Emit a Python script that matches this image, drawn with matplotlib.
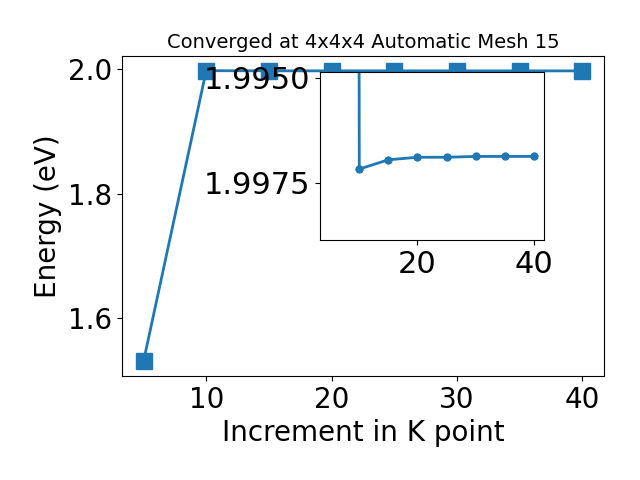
import matplotlib
matplotlib.use("Agg")
import matplotlib.pyplot as plt

# k-point increment and total energy
kpoints = [5, 10, 15, 20, 25, 30, 35, 40]
energy = [1.5306, 1.99717, 1.99695, 1.99689, 1.99689, 1.99687, 1.99687, 1.99687]

fig, ax = plt.subplots(figsize=(6.4, 4.8), dpi=100)
fig.subplots_adjust(left=0.19, right=0.944, bottom=0.217, top=0.883)

ax.plot(kpoints, energy, 's-', color='#1f77b4', lw=2, ms=11)
ax.set_title("Converged at 4x4x4 Automatic Mesh 15", fontsize=14)
ax.set_xlabel("Increment in K point", fontsize=20)
ax.set_ylabel("Energy (eV)", fontsize=20)
ax.tick_params(labelsize=20)
ax.set_yticks([1.6, 1.8, 2.0])

# zoomed inset
ins = fig.add_axes([0.5, 0.5, 0.35, 0.35])
ins.plot(kpoints, energy, 'o-', color='#1f77b4', lw=2, ms=5)
ins.set_ylim(1.99886, 1.99486)
ins.set_yticks([1.9950, 1.9975])
ins.set_yticklabels(["1.9950", "1.9975"])
ins.set_xticks([20, 40])
ins.tick_params(labelsize=22)

fig.savefig("out.png", dpi=100)
